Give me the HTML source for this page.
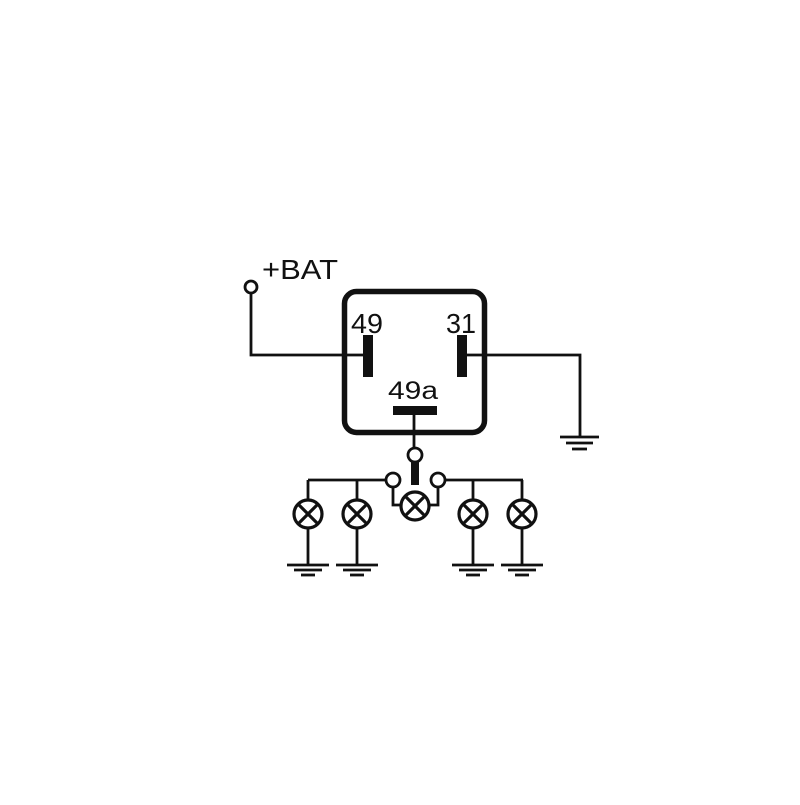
<!DOCTYPE html>
<html><head><style>body{margin:0;background:#fff}</style></head><body>
<svg width="800" height="800" viewBox="0 0 800 800" xmlns="http://www.w3.org/2000/svg">
<rect width="800" height="800" fill="#fff"/>
<g stroke="#111" stroke-width="2.8" fill="none">
<rect x="344.5" y="291.5" width="140" height="141" rx="12" stroke-width="5.5"/>
<circle cx="251" cy="287" r="6"/>
<polyline points="251,293 251,355 365,355"/>
<polyline points="462,355 580,355 580,437"/>
<line x1="560" y1="437" x2="599" y2="437"/>
<line x1="566" y1="443" x2="593" y2="443"/>
<line x1="572" y1="449" x2="587" y2="449"/>
<line x1="414" y1="414" x2="414" y2="447"/>
<circle cx="415" cy="455" r="7"/>
<circle cx="393" cy="480" r="7"/>
<circle cx="438" cy="480" r="7"/>
<line x1="386" y1="480" x2="308" y2="480"/>
<line x1="445" y1="480" x2="523" y2="480"/>
<polyline points="393,487 393,505 401,505"/>
<polyline points="438,487 438,505 429,505"/>
<g stroke-width="3.2">
<circle cx="415" cy="506" r="14"/>
<line x1="405" y1="496" x2="425" y2="516"/><line x1="425" y1="496" x2="405" y2="516"/>
</g>
<g transform="translate(308,0)">
<line x1="0" y1="480" x2="0" y2="500"/><circle cx="0" cy="514" r="14" stroke-width="3.2"/>
<line x1="-10" y1="504" x2="10" y2="524" stroke-width="3.2"/><line x1="10" y1="504" x2="-10" y2="524" stroke-width="3.2"/>
<line x1="0" y1="528" x2="0" y2="565"/>
<line x1="-21" y1="565" x2="21" y2="565"/><line x1="-14" y1="570" x2="14" y2="570"/><line x1="-7" y1="575" x2="7" y2="575"/>
</g>
<g transform="translate(357,0)">
<line x1="0" y1="480" x2="0" y2="500"/><circle cx="0" cy="514" r="14" stroke-width="3.2"/>
<line x1="-10" y1="504" x2="10" y2="524" stroke-width="3.2"/><line x1="10" y1="504" x2="-10" y2="524" stroke-width="3.2"/>
<line x1="0" y1="528" x2="0" y2="565"/>
<line x1="-21" y1="565" x2="21" y2="565"/><line x1="-14" y1="570" x2="14" y2="570"/><line x1="-7" y1="575" x2="7" y2="575"/>
</g>
<g transform="translate(473,0)">
<line x1="0" y1="480" x2="0" y2="500"/><circle cx="0" cy="514" r="14" stroke-width="3.2"/>
<line x1="-10" y1="504" x2="10" y2="524" stroke-width="3.2"/><line x1="10" y1="504" x2="-10" y2="524" stroke-width="3.2"/>
<line x1="0" y1="528" x2="0" y2="565"/>
<line x1="-21" y1="565" x2="21" y2="565"/><line x1="-14" y1="570" x2="14" y2="570"/><line x1="-7" y1="575" x2="7" y2="575"/>
</g>
<g transform="translate(522,0)">
<line x1="0" y1="480" x2="0" y2="500"/><circle cx="0" cy="514" r="14" stroke-width="3.2"/>
<line x1="-10" y1="504" x2="10" y2="524" stroke-width="3.2"/><line x1="10" y1="504" x2="-10" y2="524" stroke-width="3.2"/>
<line x1="0" y1="528" x2="0" y2="565"/>
<line x1="-21" y1="565" x2="21" y2="565"/><line x1="-14" y1="570" x2="14" y2="570"/><line x1="-7" y1="575" x2="7" y2="575"/>
</g>
</g>
<g fill="#111">
<rect x="363" y="335" width="10" height="42"/>
<rect x="457" y="335" width="10" height="42"/>
<rect x="393" y="406" width="44" height="9"/>
<rect x="411" y="462" width="8" height="23"/>
</g>
<g font-family="Liberation Sans, sans-serif" fill="#111">
<text x="262" y="279" font-size="28" textLength="76" lengthAdjust="spacingAndGlyphs">+BAT</text>
<text x="351" y="333" font-size="28" textLength="32" lengthAdjust="spacingAndGlyphs">49</text>
<text x="446" y="333" font-size="28" textLength="30" lengthAdjust="spacingAndGlyphs">31</text>
<text x="388" y="399" font-size="25" textLength="50" lengthAdjust="spacingAndGlyphs">49a</text>
</g>
</svg>
</body></html>
